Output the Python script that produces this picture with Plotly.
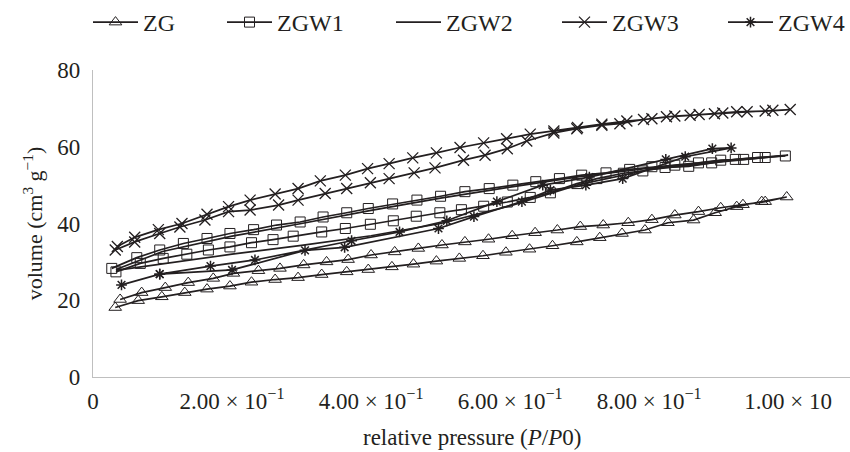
import plotly.graph_objects as go

# ---------------- data ----------------
zg_p = [0.032, 0.065, 0.099, 0.132, 0.164, 0.197, 0.228, 0.262, 0.295, 0.329, 0.365, 0.396,
        0.430, 0.461, 0.494, 0.527, 0.561, 0.594, 0.628, 0.661, 0.696, 0.729, 0.761, 0.794,
        0.827, 0.864, 0.895, 0.926, 0.962, 0.998,
        0.967, 0.935, 0.903, 0.871, 0.837, 0.804, 0.770, 0.734, 0.701, 0.668, 0.636, 0.603,
        0.569, 0.535, 0.502, 0.468, 0.434, 0.400, 0.367, 0.336, 0.303, 0.269, 0.238, 0.202,
        0.173, 0.137, 0.104, 0.070, 0.039]
zg_v = [18.1, 19.9, 20.9, 22.0, 22.9, 23.7, 24.7, 25.4, 25.9, 26.7, 27.4, 28.0,
        28.7, 29.4, 30.2, 30.9, 31.6, 32.5, 33.3, 34.2, 35.2, 36.3, 37.4, 38.3,
        40.2, 40.9, 42.8, 44.4, 45.7, 46.9,
        45.7, 44.9, 44.1, 43.1, 42.2, 41.0, 40.2, 39.6, 39.2, 38.3, 37.6, 36.8,
        35.9, 35.2, 34.4, 33.5, 32.6, 31.8, 30.6, 30.0, 29.2, 28.3, 27.7, 27.0,
        25.7, 24.6, 23.3, 22.0, 20.2]

zgw1_p = [0.033, 0.068, 0.101, 0.135, 0.166, 0.197, 0.228, 0.259, 0.288, 0.329, 0.363, 0.399,
          0.432, 0.465, 0.499, 0.530, 0.562, 0.596, 0.629, 0.658, 0.696, 0.725, 0.763, 0.791,
          0.823, 0.857, 0.890, 0.924, 0.956, 0.996,
          0.967, 0.936, 0.903, 0.871, 0.837, 0.804, 0.772, 0.738, 0.703, 0.671, 0.637, 0.604,
          0.570, 0.535, 0.500, 0.466, 0.431, 0.396, 0.365, 0.331, 0.298, 0.264, 0.231, 0.197,
          0.164, 0.130, 0.096, 0.063, 0.027]
zgw1_v = [27.4, 29.6, 30.9, 32.0, 33.1, 33.9, 35.0, 35.8, 36.7, 37.8, 38.7, 39.8,
          40.7, 41.9, 42.8, 43.6, 44.5, 45.6, 46.8, 48.0, 50.4, 51.7, 53.1, 53.7,
          54.6, 54.9, 55.8, 56.7, 57.2, 57.6,
          57.2, 56.7, 56.5, 55.8, 55.2, 54.8, 54.1, 53.2, 52.6, 51.7, 50.9, 50.0,
          49.1, 48.3, 47.1, 46.1, 45.1, 43.9, 42.8, 41.7, 40.4, 39.6, 38.4, 37.4,
          36.1, 34.8, 33.1, 31.1, 28.3]

zgw2_p = [0.033, 0.10, 0.20, 0.30, 0.40, 0.50, 0.60, 0.70, 0.80, 0.90, 1.00,
          0.90, 0.80, 0.70, 0.60, 0.50, 0.40, 0.30, 0.20, 0.10, 0.033]
zgw2_v = [27.8, 29.5, 32.0, 34.3, 36.8, 40.0, 44.6, 50.2, 54.0, 56.0, 57.8,
          56.3, 54.4, 52.2, 49.5, 46.6, 43.4, 40.0, 36.7, 32.7, 28.0]

zgw3_p = [0.032, 0.060, 0.096, 0.125, 0.161, 0.195, 0.226, 0.267, 0.295, 0.334, 0.365, 0.399,
          0.426, 0.462, 0.492, 0.533, 0.564, 0.596, 0.624, 0.663, 0.696, 0.732, 0.758, 0.792,
          0.825, 0.859, 0.894, 0.926, 0.967, 1.003,
          0.978, 0.941, 0.906, 0.872, 0.837, 0.804, 0.768, 0.732, 0.697, 0.663, 0.629, 0.595,
          0.562, 0.528, 0.494, 0.460, 0.426, 0.395, 0.363, 0.327, 0.295, 0.262, 0.226, 0.195,
          0.164, 0.128, 0.094, 0.060, 0.035]
zgw3_v = [33.1, 35.2, 37.4, 39.1, 40.9, 43.1, 43.5, 44.8, 46.1, 47.8, 49.1, 50.6,
          51.7, 53.2, 54.5, 56.5, 57.8, 59.5, 61.5, 63.6, 64.7, 65.6, 66.0, 67.1,
          67.8, 68.2, 68.6, 69.1, 69.3, 69.7,
          69.5, 69.1, 68.8, 68.4, 68.0, 67.3, 66.7, 65.9, 65.0, 64.1, 63.3, 62.1,
          61.0, 59.8, 58.4, 57.1, 55.6, 54.3, 52.6, 51.1, 49.1, 47.7, 46.1, 44.4,
          42.4, 40.0, 38.4, 36.4, 34.0]

zgw4_p = [0.041, 0.096, 0.200, 0.305, 0.362, 0.497, 0.548, 0.617, 0.658, 0.709, 0.762,
          0.852, 0.918,
          0.891, 0.824, 0.714, 0.647, 0.581, 0.509, 0.441, 0.372, 0.233, 0.169, 0.096]
zgw4_v = [24.0, 26.8, 27.9, 33.0, 33.8, 38.7, 41.8, 45.7, 48.7, 50.0, 51.7,
          57.4, 59.7,
          59.5, 56.7, 52.1, 50.0, 45.7, 40.7, 37.8, 35.5, 30.5, 28.9, 26.8]

x_tickvals = [0, 0.2, 0.4, 0.6, 0.8, 1.0]
x_ticktext = ["0", "2.00 × 10<sup>−1</sup>", "4.00 × 10<sup>−1</sup>",
              "6.00 × 10<sup>−1</sup>", "8.00 × 10<sup>−1</sup>", "1.00 × 10"]
y_tickvals = [0, 20, 40, 60, 80]

# ---------------- figure ----------------
INK = "#231f20"
FONT = "Liberation Serif"
W, H = 850, 452

fig = go.Figure()

def add(name, xs, ys, legend, symbol=None, size=10, mlw=1.0):
    if symbol is None:
        fig.add_trace(go.Scatter(x=xs, y=ys, name=name, mode="lines", legend=legend,
                                 line=dict(color=INK, width=1.7)))
    else:
        fig.add_trace(go.Scatter(x=xs, y=ys, name=name, mode="lines+markers", legend=legend,
                                 line=dict(color=INK, width=1.7),
                                 marker=dict(symbol=symbol, size=size, color=INK,
                                             line=dict(color=INK, width=mlw))))

add("ZG", zg_p, zg_v, "legend", "triangle-up-open", 11, 1.0)
add("ZGW1", zgw1_p, zgw1_v, "legend2", "square-open", 10, 1.0)
add("ZGW2", zgw2_p, zgw2_v, "legend3")
add("ZGW3", zgw3_p, zgw3_v, "legend4", "x-thin-open", 11, 1.3)
add("ZGW4", zgw4_p, zgw4_v, "legend5", "asterisk-open", 9, 1.5)

def leg(px):
    return dict(orientation="h", xref="container", yref="container",
                x=px / W, y=1.0, xanchor="left", yanchor="top",
                itemwidth=45, font=dict(family=FONT, size=24, color=INK),
                bgcolor="rgba(0,0,0,0)")

fig.update_layout(
    width=W, height=H,
    margin=dict(l=93, r=0, t=70, b=75),
    paper_bgcolor="white", plot_bgcolor="white",
    font=dict(family=FONT, size=22, color=INK),
    showlegend=True,
    legend=leg(88), legend2=leg(222), legend3=leg(391), legend4=leg(557), legend5=leg(723),
    xaxis=dict(range=[0, 1.089], tickvals=x_tickvals, ticktext=x_ticktext,
               showgrid=False, zeroline=False, showline=True, linecolor="#bfbfbf",
               linewidth=1.3, ticks="", ticklabelstandoff=3,
               tickfont=dict(family=FONT, size=23, color=INK)),
    yaxis=dict(range=[0, 80], tickvals=y_tickvals,
               showgrid=False, zeroline=False, showline=True, linecolor="#bfbfbf",
               linewidth=1.3, ticks="", ticklabelstandoff=7,
               tickfont=dict(family=FONT, size=23, color=INK),
               title=dict(text="volume (cm<sup>3</sup> g<sup>−1</sup>)",
                          font=dict(family=FONT, size=22, color=INK), standoff=8)),
    annotations=[dict(text="relative pressure (<i>P</i>/<i>P</i>0)",
                      xref="paper", yref="paper", x=0.5, y=(377 - 437) / 307,
                      xanchor="center", yanchor="middle", showarrow=False,
                      font=dict(family=FONT, size=23, color=INK))],
)

fig.write_html("out.html")
